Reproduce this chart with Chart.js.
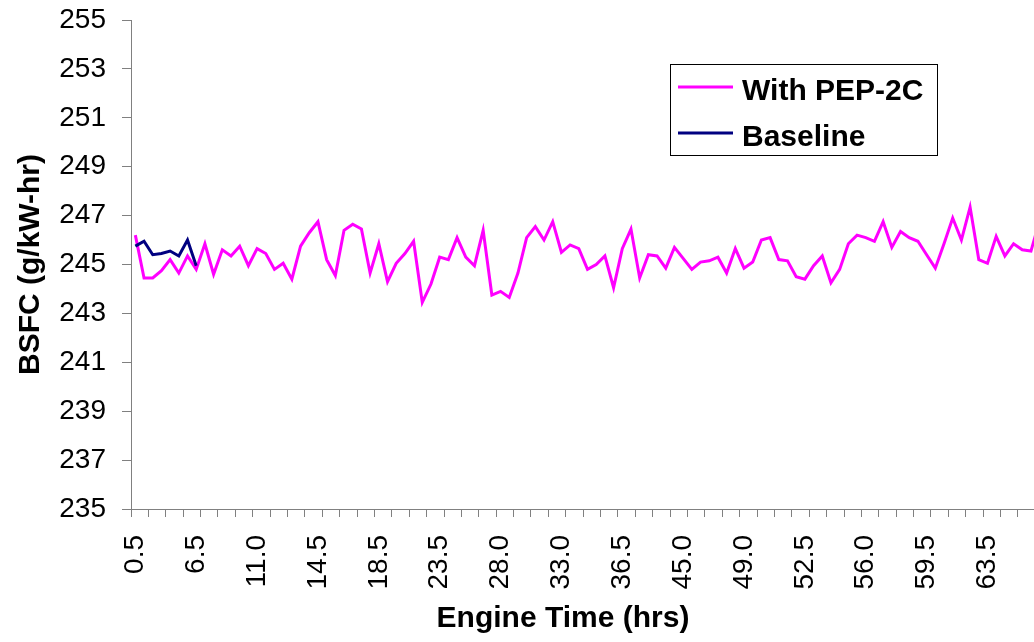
<!DOCTYPE html>
<html>
<head>
<meta charset="utf-8">
<script src="https://cdn.jsdelivr.net/npm/chart.js@4.4.1/dist/chart.umd.min.js"></script>
<style>
  html, body { margin: 0; padding: 0; background: #ffffff; overflow: hidden; }
  #wrap { width: 1044px; height: 642px; }
</style>
</head>
<body>
<div id="wrap"><canvas id="bsfc" width="1044" height="642"></canvas></div>
<script>
// Engine time of each test point (hrs)
const engineHours = [
  0.5, 1.0, 1.5, 2.5, 3.5, 4.5, 5.5, 6.5, 7.0, 7.5, 8.0, 8.5, 9.5, 10.5,
  11.0, 11.5, 12.0, 12.5, 13.0, 13.5, 14.0, 14.5, 15.0, 15.5, 16.0, 16.5, 17.0, 17.5,
  18.5, 19.0, 19.5, 20.0, 21.0, 22.0, 23.0, 23.5, 24.0, 24.5, 25.0, 25.5, 26.0, 27.0,
  28.0, 28.5, 29.0, 29.5, 30.0, 31.0, 32.0, 33.0, 33.5, 34.0, 34.5, 35.0, 35.5, 36.0,
  36.5, 37.5, 38.5, 40.0, 41.5, 42.5, 43.5, 45.0, 45.5, 46.0, 46.5, 47.0, 47.5, 48.0,
  49.0, 49.5, 50.0, 50.5, 51.0, 51.5, 52.0, 52.5, 53.0, 53.5, 54.0, 54.5, 55.0, 55.5,
  56.0, 56.5, 57.0, 57.5, 58.0, 58.5, 59.0, 59.5, 60.0, 60.5, 61.0, 61.5, 62.0, 62.5,
  63.5, 64.0, 64.5, 65.0, 65.5, 66.0, 66.5
];

// BSFC with PEP-2C (g/kW-hr)
const withPep2c = [
  246.2, 244.45, 244.45, 244.75, 245.2, 244.65, 245.35, 244.8, 245.85, 244.6,
  245.6, 245.35, 245.75, 244.95, 245.65, 245.45, 244.8, 245.05, 244.4, 245.75,
  246.3, 246.75, 245.2, 244.55, 246.4, 246.65, 246.45, 244.65, 245.85, 244.3,
  245.05, 245.45, 245.95, 243.45, 244.2, 245.3, 245.2, 246.1, 245.3, 244.95,
  246.4, 243.75, 243.9, 243.65, 244.65, 246.1, 246.55, 246.0, 246.75, 245.5,
  245.8, 245.65, 244.8, 245.0, 245.35, 244.05, 245.65, 246.45, 244.45, 245.4,
  245.35, 244.85, 245.7, 245.25, 244.8, 245.1, 245.15, 245.3, 244.65, 245.65,
  244.85, 245.1, 246.0, 246.1, 245.2, 245.15, 244.5, 244.4, 244.95, 245.35,
  244.25, 244.8, 245.85, 246.2, 246.1, 245.95, 246.75, 245.7, 246.35, 246.1,
  245.95, 245.4, 244.85, 245.85, 246.9, 246.0, 247.35, 245.2, 245.05, 246.15,
  245.35, 245.85, 245.6, 245.55, 246.8
];

// Baseline BSFC (g/kW-hr), first hours only
const baseline = [245.75, 245.95, 245.4, 245.45, 245.55, 245.35, 246.0, 244.95];

// Y axis range and step (g/kW-hr)
const bsfcMin = 235;
const bsfcMax = 255;
const bsfcStep = 2;

// Show an hour label on every 7th point, a tick mark on every 2nd
const labelEvery = 7;
const tickEvery = 2;

const axisGray = '#808080';
const fontFamily = '"Liberation Sans", Arial, sans-serif';

// Boxed legend in the upper right of the plot
const boxedLegend = {
  id: 'boxedLegend',
  afterDraw(chart) {
    const ctx = chart.ctx;
    const x = 670, y = 64, w = 267, h = 91;
    ctx.save();
    ctx.fillStyle = '#ffffff';
    ctx.fillRect(x, y, w, h);
    ctx.strokeStyle = '#000000';
    ctx.lineWidth = 1;
    ctx.strokeRect(x + 0.5, y + 0.5, w, h);
    const rows = [0, 1];
    rows.forEach((dsIndex, row) => {
      const ds = chart.data.datasets[dsIndex];
      const lineY = 87 + row * 46;
      ctx.strokeStyle = ds.borderColor;
      ctx.lineWidth = 3;
      ctx.beginPath();
      ctx.moveTo(678, lineY);
      ctx.lineTo(733, lineY);
      ctx.stroke();
      ctx.fillStyle = '#000000';
      ctx.font = 'bold 30px ' + fontFamily;
      ctx.textAlign = 'left';
      ctx.textBaseline = 'alphabetic';
      ctx.fillText(ds.label, 742, lineY + 13);
    });
    ctx.restore();
  }
};

// Horizontal axis title below the rotated hour labels
const xAxisTitle = {
  id: 'xAxisTitle',
  afterDraw(chart) {
    const ctx = chart.ctx;
    ctx.save();
    ctx.fillStyle = '#000000';
    ctx.font = 'bold 30px ' + fontFamily;
    ctx.textAlign = 'center';
    ctx.textBaseline = 'alphabetic';
    ctx.fillText('Engine Time (hrs)', 563, 627);
    ctx.restore();
  }
};

new Chart(document.getElementById('bsfc'), {
  type: 'line',
  data: {
    labels: engineHours,
    datasets: [
      {
        label: 'With PEP-2C',
        data: withPep2c,
        borderColor: '#FF00FF',
        backgroundColor: '#FF00FF',
        borderWidth: 3,
        pointRadius: 0,
        tension: 0,
        fill: false,
        order: 1
      },
      {
        label: 'Baseline',
        data: baseline,
        borderColor: '#000080',
        backgroundColor: '#000080',
        borderWidth: 3,
        pointRadius: 0,
        tension: 0,
        fill: false,
        order: 0
      }
    ]
  },
  options: {
    responsive: false,
    animation: false,
    events: [],
    layout: { padding: { top: 20, right: 0, bottom: 0, left: 0 } },
    plugins: {
      legend: { display: false },
      tooltip: { enabled: false }
    },
    scales: {
      x: {
        type: 'category',
        offset: true,
        grid: {
          offset: true,
          drawOnChartArea: false,
          drawTicks: true,
          tickLength: 8,
          tickWidth: 1,
          tickColor: (c) => (c.index % tickEvery === 0 ? axisGray : 'rgba(0,0,0,0)')
        },
        border: { display: true, color: axisGray, width: 1 },
        ticks: {
          autoSkip: false,
          maxRotation: 90,
          minRotation: 90,
          padding: 18,
          color: '#000000',
          font: { family: fontFamily, size: 28 },
          callback: (value, index) => (index % labelEvery === 0 ? engineHours[index].toFixed(1) : '')
        },
        afterFit: (scale) => {
          scale.height = 133;
          scale.paddingLeft = 0;
          scale.paddingRight = 0;
        }
      },
      y: {
        min: bsfcMin,
        max: bsfcMax,
        grid: {
          drawOnChartArea: false,
          drawTicks: true,
          tickLength: 9,
          tickColor: axisGray
        },
        border: { display: true, color: axisGray, width: 1 },
        ticks: {
          stepSize: bsfcStep,
          padding: 16,
          color: '#000000',
          font: { family: fontFamily, size: 28 }
        },
        title: {
          display: true,
          text: 'BSFC (g/kW-hr)',
          color: '#000000',
          font: { family: fontFamily, size: 30, weight: 'bold' },
          padding: { top: 13, bottom: 0 }
        },
        afterFit: (scale) => {
          scale.width = 131;
          scale.paddingTop = 0;
          scale.paddingBottom = 0;
        }
      }
    }
  },
  plugins: [boxedLegend, xAxisTitle]
});
</script>
</body>
</html>
